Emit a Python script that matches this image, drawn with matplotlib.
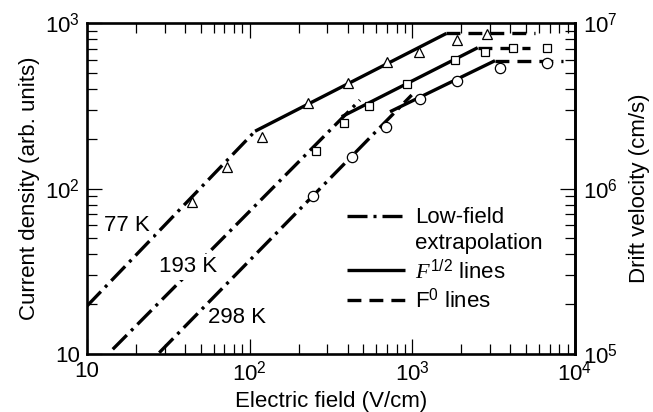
import matplotlib
matplotlib.use("Agg")
import matplotlib.pyplot as plt
from matplotlib.lines import Line2D
from matplotlib.ticker import FixedLocator, FixedFormatter, NullFormatter, LogLocator

plt.rcParams['font.family'] = ['Liberation Sans', 'DejaVu Sans']
plt.rcParams['mathtext.fontset'] = 'custom'
plt.rcParams['mathtext.rm'] = 'Liberation Sans'
plt.rcParams['mathtext.it'] = 'Liberation Serif:italic'
plt.rcParams['mathtext.bf'] = 'Liberation Sans:bold'
plt.rcParams['lines.scale_dashes'] = False

# ---------------- data ----------------
field_77 = [44.0, 72.3, 118.6, 227, 401, 702, 1104, 1874, 2889]
J_77 = [83.2, 135.4, 203.7, 327, 436, 584, 665, 790, 858]
field_193 = [256, 380, 544, 923, 1837, 2797, 4140, 6700]
J_193 = [168.5, 247.7, 316.5, 428, 597.5, 670.8, 709, 709]
field_298 = [244, 424, 686, 1115, 1890, 3458, 6756]
J_298 = [90.5, 155, 236.3, 347.4, 446, 537, 571]

# low-field extrapolation lines (J ~ F)
low_F_77 = [10, 108]
low_J_77 = [19.5, 222]
low_F_193 = [14.4, 476]
low_J_193 = [10.68, 342]
low_F_298 = [27.8, 991]
low_J_298 = [10.18, 367]

# F^1/2 lines
half_F_77 = [108, 1620]
half_J_77 = [222, 865]
half_F_193 = [368, 2522]
half_J_193 = [271.6, 709]
half_F_298 = [729, 3222]
half_J_298 = [291, 592]

# F^0 lines
zero_F_77 = [1620, 5680]
zero_J_77 = [865, 865]
zero_F_193 = [2522, 5289]
zero_J_193 = [709, 709]
zero_F_298 = [3222, 8435]
zero_J_298 = [592, 592]

temp_labels = ["77 K", "193 K", "298 K"]
temp_label_F = [17.7, 41.8, 84.1]
temp_label_J = [59.8, 33.6, 16.6]

x_ticks = [10, 100, 1000, 10000]
x_tick_labels = ["10", "$10^{2}$", "$10^{3}$", "$10^{4}$"]
y_ticks = [10, 100, 1000]
y_tick_labels = ["10", "$10^{2}$", "$10^{3}$"]
v_ticks = [1e5, 1e6, 1e7]
v_tick_labels = ["$10^{5}$", "$10^{6}$", "$10^{7}$"]

legend_labels = ["Low-field", "extrapolation", "$F^{1/2}$ lines", "F$^{0}$ lines"]

# ---------------- styling ----------------
LW = 2.4
DASHDOT = (14.4, 4.3, 2.2, 4.3)
DASHED = (10.0, 5.8)
FS = 16
TFS = 16

fig = plt.figure(figsize=(6.53, 4.12), dpi=100)
W, H = 653, 412
ax = fig.add_axes([87 / W, (H - 354) / H, 488 / W, 331 / H])
ax.set_xscale('log')
ax.set_yscale('log')
ax.set_xlim(10, 1e4)
ax.set_ylim(10, 1e3)

def dline(F, J, dashes=None):
    ln, = ax.plot(F, J, color='black', lw=LW, solid_capstyle='butt', zorder=2)
    if dashes is not None:
        ln.set_dashes(dashes)
        ln.set_dash_capstyle('butt')
    return ln

for F, J in [(low_F_77, low_J_77), (low_F_193, low_J_193), (low_F_298, low_J_298)]:
    dline(F, J, DASHDOT)
for F, J in [(half_F_77, half_J_77), (half_F_193, half_J_193), (half_F_298, half_J_298)]:
    dline(F, J)
for F, J in [(zero_F_77, zero_J_77), (zero_F_193, zero_J_193), (zero_F_298, zero_J_298)]:
    dline(F, J, DASHED)

mk = dict(linestyle='none', markerfacecolor='white', markeredgecolor='black',
          markeredgewidth=0.9, zorder=3)
ax.plot(field_77, J_77, marker='^', markersize=7.4, **mk)
ax.plot(field_193, J_193, marker='s', markersize=6.3, **mk)
ax.plot(field_298, J_298, marker='o', markersize=7.4, **mk)

for t, f, j in zip(temp_labels, temp_label_F, temp_label_J):
    ax.text(f, j, t, fontsize=FS, ha='center', va='center', zorder=4,
            bbox=dict(facecolor='white', edgecolor='none', pad=2))

# axes / ticks
ax.xaxis.set_major_locator(FixedLocator(x_ticks))
ax.xaxis.set_major_formatter(FixedFormatter(x_tick_labels))
ax.xaxis.set_minor_locator(LogLocator(base=10, subs=range(2, 10)))
ax.xaxis.set_minor_formatter(NullFormatter())
ax.yaxis.set_major_locator(FixedLocator(y_ticks))
ax.yaxis.set_major_formatter(FixedFormatter(y_tick_labels))
ax.yaxis.set_minor_locator(LogLocator(base=10, subs=range(2, 10)))
ax.yaxis.set_minor_formatter(NullFormatter())

ax.set_xlabel("Electric field (V/cm)", fontsize=FS, labelpad=4)
ax.set_ylabel("Current density (arb. units)", fontsize=FS, labelpad=4)

ax2 = ax.twinx()
ax2.set_yscale('log')
ax2.set_ylim(1e5, 1e7)
ax2.yaxis.set_major_locator(FixedLocator(v_ticks))
ax2.yaxis.set_major_formatter(FixedFormatter(v_tick_labels))
ax2.yaxis.set_minor_locator(LogLocator(base=10, subs=range(2, 10)))
ax2.yaxis.set_minor_formatter(NullFormatter())
ax2.set_ylabel("Drift velocity (cm/s)", fontsize=FS, labelpad=8)

ax.tick_params(which='both', direction='in', top=True, right=False,
               width=0.9, labelsize=TFS, pad=5)
ax.tick_params(which='major', length=11)
ax.tick_params(which='minor', length=7)
ax2.tick_params(which='both', direction='in', width=0.9, labelsize=TFS, pad=6)
ax2.tick_params(which='major', length=11)
ax2.tick_params(which='minor', length=7)

for s in ax.spines.values():
    s.set_linewidth(1.9)
for k, s in ax2.spines.items():
    if k == 'right':
        s.set_linewidth(1.9)
    else:
        s.set_visible(False)

handles = [Line2D([], [], color='black', lw=LW, dashes=DASHDOT, dash_capstyle='butt'),
           Line2D([], [], color='none', lw=LW),
           Line2D([], [], color='black', lw=LW, solid_capstyle='butt'),
           Line2D([], [], color='black', lw=LW, dashes=DASHED, dash_capstyle='butt')]
leg = ax2.legend(handles, legend_labels, loc='upper left', bbox_to_anchor=(0.533, 0.443),
                 frameon=False, fontsize=FS, handlelength=2.6, handletextpad=0.45,
                 borderpad=0, borderaxespad=0, labelspacing=0.22)

fig.savefig("out.png", dpi=100)
